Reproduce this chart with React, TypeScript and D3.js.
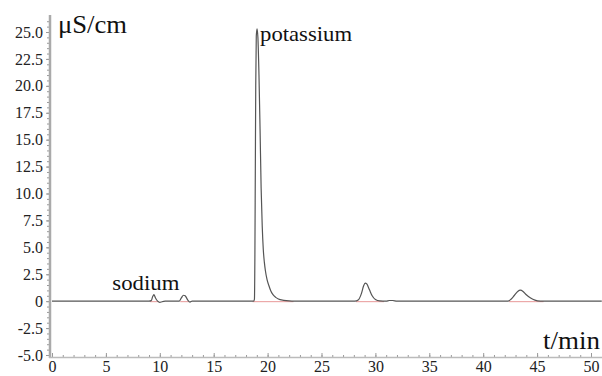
import React, {useRef, useEffect} from 'react'
import * as d3 from 'd3'

// chromatogram trace (time in min, signal in µS/cm)
const times = [0, 9.0, 9.2, 9.35, 9.45, 9.6, 9.8, 10.0, 10.2, 10.5,
	11.8, 12.0, 12.2, 12.35, 12.6, 12.8, 13.0,
	18.70, 18.78, 18.82, 18.86, 18.90, 18.95, 19.02, 19.10, 19.20, 19.30, 19.40, 19.50, 19.60, 19.70, 19.80, 19.95, 20.10, 20.30, 20.50, 20.75, 21.00, 21.50, 22.00, 22.50,
	28.1, 28.4, 28.7, 28.9, 29.05, 29.2, 29.45, 29.7, 30.0, 30.4, 31.0, 31.3, 31.6, 32.0,
	42.3, 42.6, 42.9, 43.2, 43.45, 43.7, 44.0, 44.4, 44.8, 45.3, 45.8, 51]
const signal = [0, 0, 0.05, 0.45, 0.6, 0.3, 0, -0.12, -0.05, 0,
	0, 0.3, 0.55, 0.5, 0.1, -0.08, 0,
	0, 0.2, 4, 12, 20, 24.6, 25.3, 24.5, 21, 16, 10.5, 7, 4.8, 3.6, 2.8, 2.0, 1.5, 0.95, 0.6, 0.35, 0.2, 0.08, 0.02, 0,
	0, 0.1, 0.7, 1.4, 1.68, 1.6, 1.05, 0.5, 0.15, 0.02, 0, 0.06, 0.06, 0,
	0, 0.2, 0.55, 0.9, 1.02, 0.9, 0.6, 0.3, 0.1, 0.01, 0, 0]

// integration baselines (red) under the peaks
const baseStart = [9.1, 11.9, 18.6, 28.2, 42.4]
const baseEnd = [9.9, 12.7, 22.4, 30.8, 45.6]

const yTicks = [-5, -2.5, 0, 2.5, 5, 7.5, 10, 12.5, 15, 17.5, 20, 22.5, 25]
const xTicks = [0, 5, 10, 15, 20, 25, 30, 35, 40, 45, 50]

const peakLabels = [
	{text: 'sodium', t: 5.6, v: 1.0, len: 67},
	{text: 'potassium', t: 19.3, v: 24.2, len: 92},
]

const serif = "'Liberation Serif', 'Times New Roman', serif"

export default function App() {
	const ref = useRef(null)
	const layout = {width: 602, height: 376}

	const x = d3.scaleLinear().domain([0, 50]).range([52, 591])
	const y = d3.scaleLinear().domain([-5, 25]).range([355, 32])

	useEffect(() => {
		const svg = d3.select(ref.current)
		const gy = svg.select('#y-axis')
		const gx = svg.select('#x-axis')
		gy.selectAll('*').remove()
		gx.selectAll('*').remove()

		// minor ticks first, then the major ticks with labels
		const yMinor = d3.axisLeft(y).tickValues(d3.range(-5, 26.01, 0.5)).tickSize(3).tickFormat(() => '')
		gy.append('g').attr('transform', 'translate(50,0)').call(yMinor)
		const yAxis = d3.axisLeft(y).tickValues(yTicks).tickSize(4).tickPadding(3)
			.tickFormat(d => d === 0 ? '0' : (+d).toFixed(1))
		gy.append('g').attr('transform', 'translate(50,0)').call(yAxis)

		const xMinor = d3.axisTop(x).tickValues(d3.range(0, 51, 1)).tickSize(2).tickFormat(() => '')
		gx.append('g').attr('transform', 'translate(0,357)').call(xMinor)
		const xAxis = d3.axisBottom(x).tickValues(xTicks).tickSize(-4).tickPadding(4)
		gx.append('g').attr('transform', 'translate(0,357)').call(xAxis)

		svg.selectAll('.domain').remove()
		svg.selectAll('.tick line').attr('stroke', '#999')
		svg.selectAll('.tick text')
			.attr('font-size', 16)
			.attr('fill', '#222')
		svg.selectAll('g[font-family]').attr('font-family', null)
	}, [])

	const line = d3.line<number>()
		.x((d, i) => x(times[i]))
		.y(d => y(d))
		.curve(d3.curveMonotoneX)

	return (
		<div style={{fontFamily: serif}}>
			<svg width={layout.width} height={layout.height} ref={ref}
				style={{position: 'absolute', left: 0, top: 0}}>
				<style>{`text { font-family: ${serif} !important; }`}</style>
				<rect width={layout.width} height={layout.height} fill="white" />
				<g id="y-axis" />
				<g id="x-axis" />
				<line x1={50} x2={50} y1={15} y2={358} stroke="#aaa" strokeWidth={2.5} />
				<line x1={49} x2={602} y1={357.5} y2={357.5} stroke="#bbb" strokeWidth={1.5} />
				{baseStart.map((s, i) => (
					<line key={i} x1={x(s)} x2={x(baseEnd[i])} y1={y(0) + 0.5} y2={y(0) + 0.5}
						stroke="#e07070" strokeWidth={1} opacity={0.7} />
				))}
				<path d={line(signal) || ''} fill="none" stroke="#555" strokeWidth={1.2} />
				<text x={58} y={33} fontSize={25} fill="#111"
					textLength={69} lengthAdjust="spacingAndGlyphs">μS/cm</text>
				{peakLabels.map(p => (
					<text key={p.text} x={x(p.t)} y={y(p.v)} fontSize={21}
						fill="#111" textLength={p.len} lengthAdjust="spacingAndGlyphs">{p.text}</text>
				))}
				<text x={543} y={349} fontSize={26} fill="#111"
					textLength={57} lengthAdjust="spacingAndGlyphs">t/min</text>
			</svg>
		</div>
	)
}
